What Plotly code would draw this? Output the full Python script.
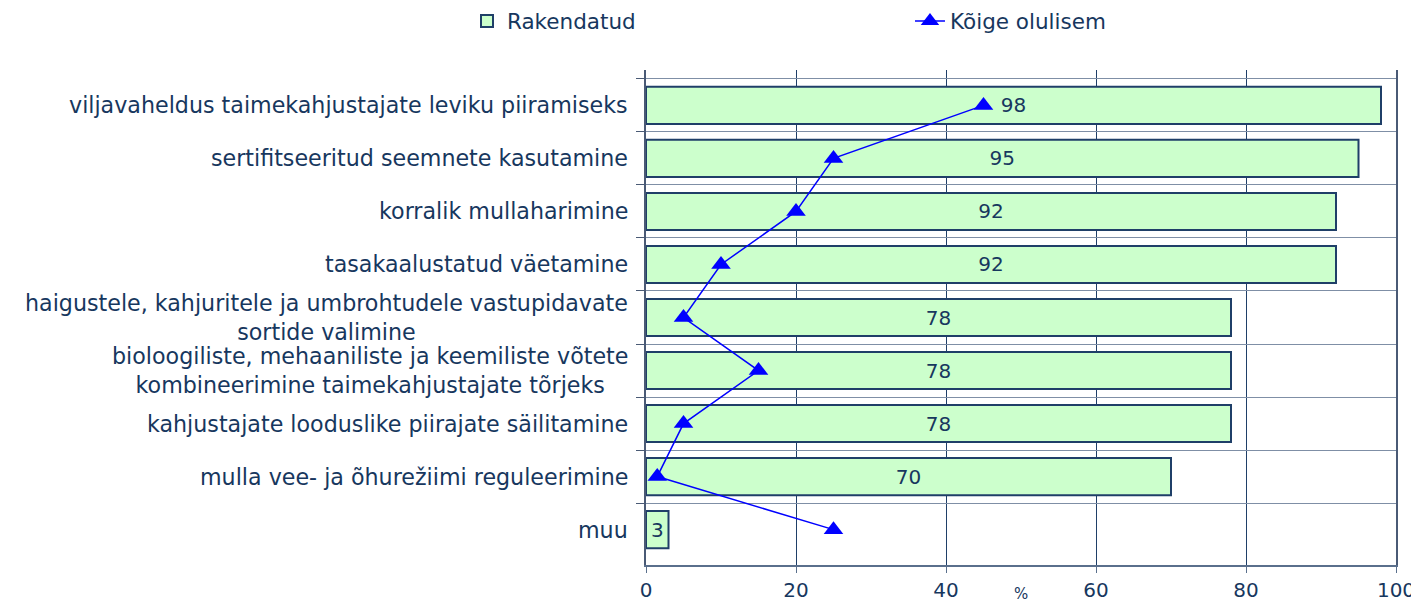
import plotly.graph_objects as go

# === Data ===
categories = [
    "viljavaheldus taimekahjustajate leviku piiramiseks",
    "sertifitseeritud seemnete kasutamine",
    "korralik mullaharimine",
    "tasakaalustatud väetamine",
    "haigustele, kahjuritele ja umbrohtudele vastupidavate<br>sortide valimine",
    "bioloogiliste, mehaaniliste ja keemiliste võtete<br>kombineerimine taimekahjustajate tõrjeks",
    "kahjustajate looduslike piirajate säilitamine",
    "mulla vee- ja õhurežiimi reguleerimine",
    "muu",
]
rakendatud = [98, 95, 92, 92, 78, 78, 78, 70, 3]
koige_olulisem = [45, 25, 20, 10, 5, 15, 5, 1.5, 25]
x_ticks = [0, 20, 40, 60, 80, 100]

navy = "#17375E"
font_family = "Verdana, DejaVu Sans, sans-serif"

fig = go.Figure()

fig.add_bar(
    name="Rakendatud",
    y=categories,
    x=rakendatud,
    orientation="h",
    marker=dict(color="#CCFFCC", line=dict(color="#1F3F68", width=2)),
    text=rakendatud,
    textposition="inside",
    insidetextanchor="middle",
    textfont=dict(color=navy, size=20, family=font_family),
    constraintext="none",
)

fig.add_scatter(
    name="Kõige olulisem",
    y=categories,
    x=koige_olulisem,
    mode="lines+markers",
    line=dict(color="#0000FF", width=1.5),
    marker=dict(symbol="triangle-up", size=17, color="#0000FF"),
)

# y labels as annotations so two-line labels are centered
for cat in categories:
    fig.add_annotation(
        x=0, xref="paper", y=cat, yref="y",
        text=cat, showarrow=False,
        xanchor="right", xshift=-16, align="center",
        font=dict(color=navy, size=22.2, family=font_family),
    )

fig.add_annotation(
    x=50, xref="x", y=0, yref="paper",
    text="%", showarrow=False, yanchor="middle", yshift=-29,
    font=dict(color=navy, size=15, family=font_family),
)

# page body has an 8px margin, so the figure is sized 8px smaller
fig.update_layout(
    width=1411, height=598,
    margin=dict(l=638, r=23, t=62, b=41, autoexpand=False),
    paper_bgcolor="white",
    plot_bgcolor="white",
    bargap=0.3,
    font=dict(family=font_family, color=navy, size=20),
    showlegend=True,
    legend=dict(
        orientation="h",
        x=-0.2387, xanchor="left",
        y=1.099, yanchor="middle",
        entrywidth=398, entrywidthmode="pixels",
        font=dict(size=21.5, color=navy, family=font_family),
        traceorder="normal",
    ),
    xaxis=dict(
        range=[0, 100],
        tickvals=x_ticks,
        showgrid=True, gridcolor="#1F3F68", gridwidth=1,
        showline=True, linecolor="#5A6F8C", linewidth=2,
        ticks="outside", ticklen=6, tickcolor="#5A6F8C",
        tickfont=dict(size=20, color=navy, family=font_family),
        zeroline=False,
        automargin=False,
    ),
    yaxis=dict(
        type="category",
        autorange="reversed",
        tickson="boundaries",
        showticklabels=False,
        showgrid=True, gridcolor="#7F8FA6", gridwidth=1,
        showline=True, linecolor="#4A5A75", linewidth=2, mirror=True,
        ticks="outside", ticklen=8, tickcolor="#4A5A75",
        automargin=False,
    ),
)

fig.write_html("out.html")
